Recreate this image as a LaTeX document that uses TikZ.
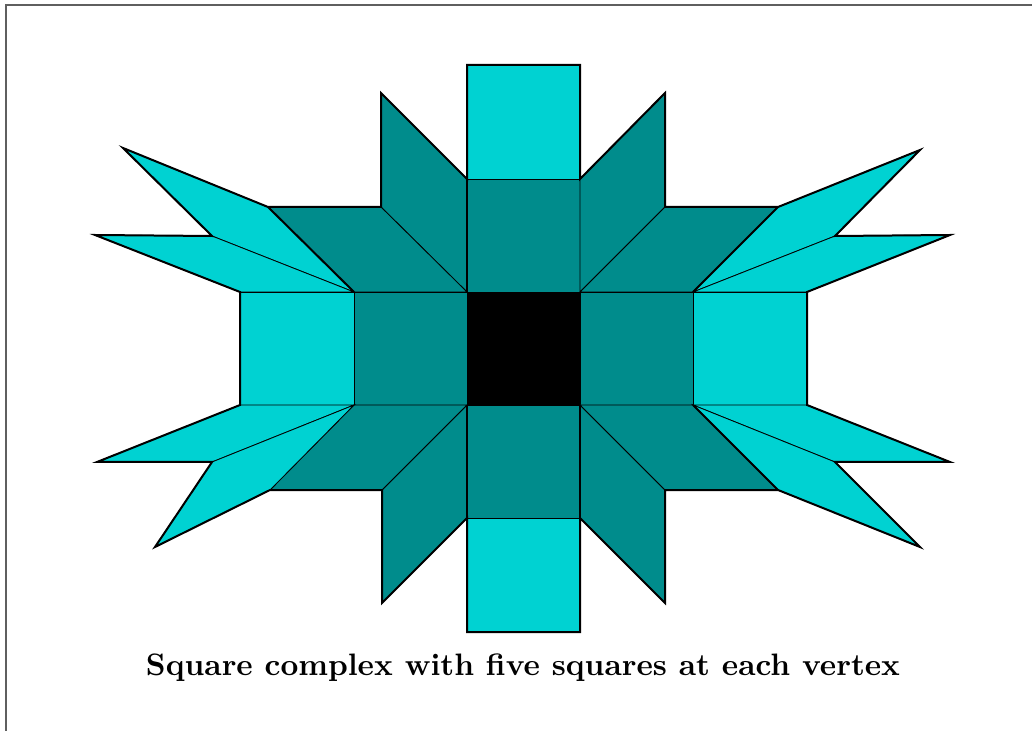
\documentclass[tikz,border=0pt]{standalone}
\usepackage{graphicx}
\definecolor{lightsq}{RGB}{0,210,210}
\definecolor{darksq}{RGB}{0,140,140}
\definecolor{framegray}{RGB}{95,95,95}
\begin{document}
\begin{tikzpicture}[x=0.5pt,y=-0.5pt,
  light/.style={fill=lightsq,draw=black,line width=0.4pt,line join=miter},
  dark/.style={fill=darksq,draw=black,line width=0.4pt,line join=miter},
  center/.style={fill=black,draw=black,line width=0.4pt},
  outline/.style={draw=black,line width=1pt,line join=miter},
  framestyle/.style={draw=framegray,line width=0.8pt}]
\useasboundingbox (0,0) rectangle (1032,731);
% frame
\draw[framestyle] (6,731) -- (6,5) -- (1032,5);
% center square
\path[center] (467,292) rectangle (580,405);
% dark squares
\path[dark] (467,179) rectangle (580,292);
\path[dark] (467,405) rectangle (580,518);
\path[dark] (354,292) rectangle (467,405);
\path[dark] (580,292) rectangle (693,405);
% light squares
\path[light] (467,65) rectangle (580,179);
\path[light] (467,518) rectangle (580,632);
\path[light] (240,292) rectangle (354,405);
\path[light] (693,292) rectangle (807,405);
% dark parallelograms
\path[dark] (467,292) -- (467,179) -- (381,93) -- (381,207) -- cycle;
\path[dark] (467,292) -- (381,207) -- (268,207) -- (354,292) -- cycle;
\path[dark] (580,292) -- (580,179) -- (665,93) -- (665,207) -- cycle;
\path[dark] (580,292) -- (665,207) -- (778,207) -- (693,292) -- cycle;
\path[dark] (467,405) -- (467,518) -- (382,603) -- (382,490) -- cycle;
\path[dark] (467,405) -- (382,490) -- (270,490) -- (354,405) -- cycle;
\path[dark] (580,405) -- (580,518) -- (665,603) -- (665,490) -- cycle;
\path[dark] (580,405) -- (665,490) -- (778,490) -- (693,405) -- cycle;
% light parallelograms
\path[light] (354,292) -- (268,207) -- (123,148) -- (212,236) -- cycle;
\path[light] (354,292) -- (212,236) -- (95,235) -- (240,292) -- cycle;
\path[light] (693,292) -- (778,207) -- (920,150) -- (835,236) -- cycle;
\path[light] (693,292) -- (835,236) -- (950,235) -- (807,292) -- cycle;
\path[light] (354,405) -- (240,405) -- (97,462) -- (212,462) -- cycle;
\path[light] (354,405) -- (212,462) -- (155,547) -- (270,490) -- cycle;
\path[light] (693,405) -- (807,405) -- (950,462) -- (835,462) -- cycle;
\path[light] (693,405) -- (835,462) -- (920,547) -- (778,490) -- cycle;
% heavier edges
\draw[outline] (268,207) -- (354,292);
\draw[outline] (778,207) -- (693,292);
\draw[outline] (693,405) -- (778,490);
\draw[line width=0.7pt] (467,179) -- (467,292);
\draw[line width=0.7pt] (580,405) -- (580,518);
\draw[line width=0.7pt] (467,405) -- (467,518);
% outer boundary
\draw[outline] (467,65) -- (580,65) -- (580,179) -- (665,93) -- (665,207)
  -- (778,207) -- (920,150) -- (835,236) -- (950,235) -- (807,292)
  -- (807,405) -- (950,462) -- (835,462) -- (920,547) -- (778,490)
  -- (665,490) -- (665,603) -- (580,518) -- (580,632) -- (467,632)
  -- (467,518) -- (382,603) -- (382,490) -- (270,490) -- (155,547)
  -- (212,462) -- (97,462) -- (240,405) -- (240,292) -- (95,235)
  -- (212,236) -- (123,148) -- (268,207) -- (381,207) -- (381,93)
  -- (467,179) -- cycle;
% caption
\node[anchor=base,inner sep=0pt] (caption) at (523,675)
  {\resizebox{377pt}{!}{\bfseries Square complex with five squares at each vertex}};
\end{tikzpicture}
\end{document}
